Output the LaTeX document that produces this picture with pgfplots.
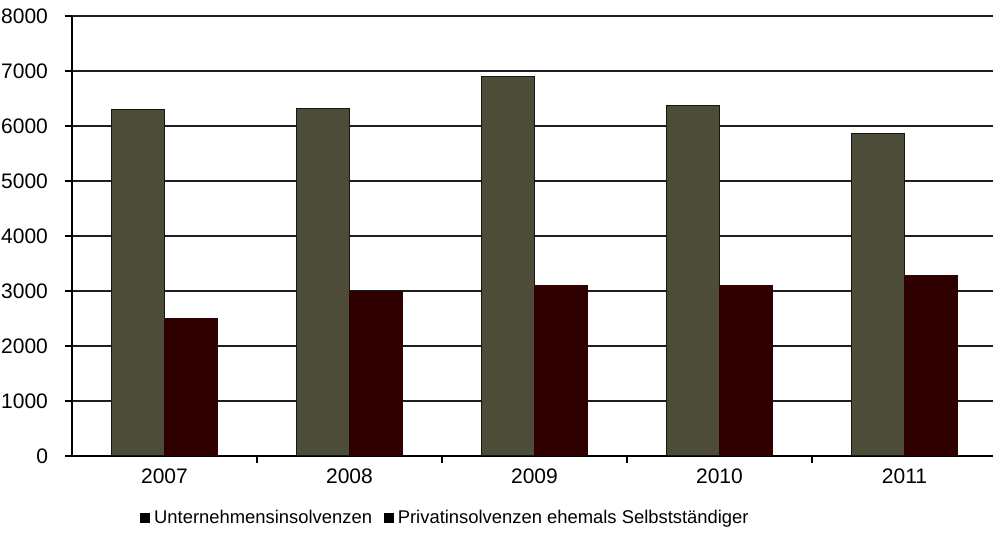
\documentclass[border=0pt]{standalone}
\usepackage{pgfplots}
\pgfplotsset{compat=1.18}
\usepackage{fontspec}
\setmainfont{Liberation Sans}

\definecolor{olivebar}{RGB}{76,76,56}
\definecolor{maroonbar}{RGB}{46,0,0}
\definecolor{gridcol}{RGB}{30,30,30}

\begin{document}
\begin{tikzpicture}
\useasboundingbox (0,0) rectangle (496.5pt,270.5pt);
\begin{axis}[
  at={(36pt,42.5pt)}, anchor=south west,
  scale only axis,
  width=462.5pt, height=220pt,
  ybar=0pt, bar width=26.5pt,
  xmin=-0.5, xmax=4.5,
  ymin=0, ymax=8000,
  % category separators as ticks, year names as extra ticks without marks
  xtick={0.5,1.5,2.5,3.5},
  xticklabels={},
  extra x ticks={0,1,2,3,4},
  extra x tick labels={2007,2008,2009,2010,2011},
  extra x tick style={major tick length=0pt, grid=none},
  ytick={0,1000,...,8000},
  tick align=outside,
  major tick length=3.5pt,
  ymajorgrids,
  grid style={gridcol, line width=0.75pt},
  axis x line*=bottom, axis y line*=left,
  axis line style={black, line width=0.8pt, -},
  tick style={black, line width=0.8pt},
  /pgf/number format/assume math mode=true,
  scaled y ticks=false,
  yticklabel style={/pgf/number format/1000 sep={}, font=\fontsize{10.5}{12}\selectfont, xshift=-5pt},
  xticklabel style={font=\fontsize{10.5}{12}\selectfont, yshift=-3pt},
  legend style={draw=none, fill=none, at={(0.0735,-0.141)}, anchor=west,
    font=\fontsize{9.2}{12}\selectfont, inner sep=0pt,
    /tikz/every even column/.append style={column sep=4pt}},
  legend columns=2,
  legend image code/.code={\fill[black] (0pt,-2.2pt) rectangle (4.4pt,2.2pt);},
  legend cell align=left,
]
\addplot[fill=olivebar, draw=black!70!olivebar, line width=0.5pt]
  coordinates {(0,6295) (1,6315) (2,6902) (3,6376) (4,5866)};
\addplot[fill=maroonbar, draw=maroonbar, line width=0.5pt]
  coordinates {(0,2500) (1,2987) (2,3109) (3,3091) (4,3279)};
\legend{Unternehmensinsolvenzen, Privatinsolvenzen ehemals Selbstständiger}
\end{axis}
\end{tikzpicture}
\end{document}
